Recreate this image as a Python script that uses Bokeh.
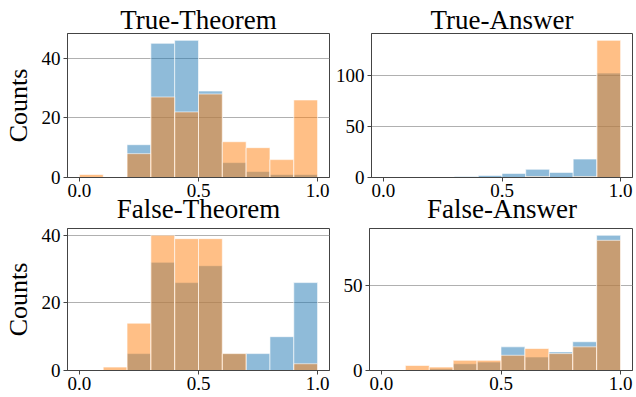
from bokeh.plotting import figure
from bokeh.models import Range1d, FixedTicker, NumeralTickFormatter, Title, ColumnDataSource
from bokeh.layouts import column, row
from bokeh.embed import file_html
from bokeh.resources import INLINE

# histogram bins (10 bins on [0, 1])
bin_left = [0.0, 0.1, 0.2, 0.3, 0.4, 0.5, 0.6, 0.7, 0.8, 0.9]
bin_right = [0.1, 0.2, 0.3, 0.4, 0.5, 0.6, 0.7, 0.8, 0.9, 1.0]

titles = ["True-Theorem", "True-Answer", "False-Theorem", "False-Answer"]

true_theorem_blue = [0, 0, 11, 45, 46, 29, 5, 2, 1, 1]
true_theorem_orange = [1, 0, 8, 27, 22, 28, 12, 10, 6, 26]
true_answer_blue = [0, 0, 0, 1, 2, 4, 8, 5, 18, 102]
true_answer_orange = [0, 0, 0, 0, 0, 0, 1, 0, 1, 134]
false_theorem_blue = [0, 0, 5, 32, 26, 31, 5, 5, 10, 26]
false_theorem_orange = [0, 1, 14, 40, 39, 39, 5, 0, 0, 2]
false_answer_blue = [0, 0, 1, 4, 5, 14, 8, 11, 17, 80]
false_answer_orange = [0, 3, 2, 6, 6, 9, 13, 10, 14, 77]

x_ticks = [0.0, 0.5, 1.0]
y_ticks = [[0, 20, 40], [0, 50, 100], [0, 20, 40], [0, 50]]

BLUE = "#1f77b4"
ORANGE = "#ff7f0e"
FONT = "Liberation Serif"

FW = 263
FH = [144, 142]
BORDER_L = [66, 37]
BORDER_R = [3, 4]
BORDER_T = [33, 4]
BORDER_B = [47, 27]


def title_obj(text, **kw):
    return Title(text=text, align="center", text_font=FONT, text_font_size="27px",
                 text_font_style="normal", text_color="black", **kw)


def make(r, c, blue, orange, yt, ylabel):
    ymax = max(max(blue), max(orange)) * 1.05
    w = BORDER_L[c] + FW + BORDER_R[c]
    h = BORDER_T[r] + FH[r] + BORDER_B[r]
    p = figure(width=w, height=h, output_backend="svg", toolbar_location=None,
               x_range=Range1d(-0.05, 1.05), y_range=Range1d(0, ymax),
               min_border_left=BORDER_L[c], min_border_right=BORDER_R[c],
               min_border_top=BORDER_T[r], min_border_bottom=BORDER_B[r])
    src_b = ColumnDataSource(dict(left=bin_left, right=bin_right, top=blue))
    src_o = ColumnDataSource(dict(left=bin_left, right=bin_right, top=orange))
    p.quad(left="left", right="right", top="top", bottom=0, source=src_b,
           fill_color=BLUE, fill_alpha=0.5, line_color="white", line_alpha=0.6, line_width=1)
    p.quad(left="left", right="right", top="top", bottom=0, source=src_o,
           fill_color=ORANGE, fill_alpha=0.5, line_color="white", line_alpha=0.6, line_width=1)

    p.xgrid.visible = False
    p.ygrid.ticker = FixedTicker(ticks=yt)
    p.ygrid.grid_line_color = "#b0b0b0"
    p.ygrid.grid_line_width = 1

    p.xaxis.ticker = FixedTicker(ticks=x_ticks)
    p.xaxis.formatter = NumeralTickFormatter(format="0.0")
    p.yaxis.ticker = FixedTicker(ticks=yt)
    for ax in (p.xaxis[0], p.yaxis[0]):
        ax.major_label_text_font = FONT
        ax.major_label_text_font_size = "19px"
        ax.major_label_text_color = "black"
        ax.major_tick_out = 4
        ax.major_tick_in = 0
        ax.minor_tick_out = 0
        ax.minor_tick_in = 0
        ax.axis_line_color = "#444444"
        ax.major_tick_line_color = "#444444"
        ax.major_label_standoff = 3
    p.xaxis.major_label_standoff = 2
    if ylabel:
        p.yaxis.axis_label = ylabel
        p.yaxis.axis_label_text_font = FONT
        p.yaxis.axis_label_text_font_size = "26px"
        p.yaxis.axis_label_text_font_style = "normal"
        p.yaxis.axis_label_text_color = "black"
        p.yaxis.axis_label_standoff = 6

    p.outline_line_color = "#444444"
    p.outline_line_width = 1
    return p


p1 = make(0, 0, true_theorem_blue, true_theorem_orange, y_ticks[0], "Counts")
p2 = make(0, 1, true_answer_blue, true_answer_orange, y_ticks[1], None)
p3 = make(1, 0, false_theorem_blue, false_theorem_orange, y_ticks[2], "Counts")
p4 = make(1, 1, false_answer_blue, false_answer_orange, y_ticks[3], None)

# panel titles: top row above its own frames, bottom row placed in the gap under the top row's axis
p1.add_layout(title_obj(titles[0], standoff=-2), "above")
p2.add_layout(title_obj(titles[1], standoff=-2), "above")
p1.add_layout(title_obj(titles[2], standoff=-12, vertical_align="top"), "below")
p2.add_layout(title_obj(titles[3], standoff=-12, vertical_align="top"), "below")

layout = column(row(p1, p2, spacing=0), row(p3, p4, spacing=0), spacing=0)

open("out.html", "w").write(file_html(layout, INLINE))
